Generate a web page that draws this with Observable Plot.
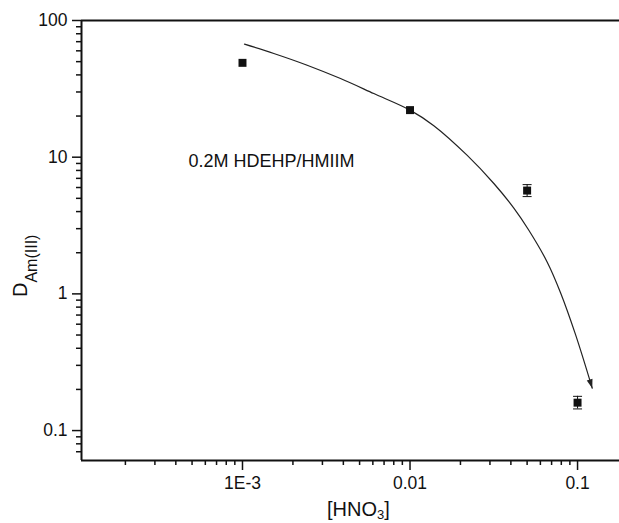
<!DOCTYPE html>
<html><head><meta charset="utf-8">
<script src="https://cdn.jsdelivr.net/npm/d3@7"></script>
<script src="https://cdn.jsdelivr.net/npm/@observablehq/plot@0.6"></script>
<style>body{margin:0;background:#fff}</style>
</head><body><div id="chart"></div>
<script>
// ---- data ----
const hno3 = [0.001, 0.01, 0.05, 0.1];
const dAm = [49, 22.1, 5.7, 0.16];
const dLow = [null, null, 5.15, 0.144];
const dHigh = [null, null, 6.3, 0.178];

const fitX = [0.001028, 0.001538, 0.002433, 0.003847, 0.006079, 0.01, 0.01387, 0.02196, 0.03165, 0.04166, 0.0512, 0.06594, 0.07916, 0.0973, 0.1224];
const fitY = [67.1, 57.4, 47.1, 37.6, 29.2, 22.1, 17.0, 10.3, 6.42, 4.24, 2.92, 1.706, 1.02, 0.5029, 0.204];

const xMajor = [0.001, 0.01, 0.1];
const xMajorLabels = ["1E-3", "0.01", "0.1"];
const xMinor = [0.0002, 0.0003, 0.0004, 0.0005, 0.0006, 0.0007, 0.0008, 0.0009,
                0.002, 0.003, 0.004, 0.005, 0.006, 0.007, 0.008, 0.009,
                0.02, 0.03, 0.04, 0.05, 0.06, 0.07, 0.08, 0.09];
const yMajor = [0.1, 1, 10, 100];
const yMajorLabels = ["0.1", "1", "10", "100"];
const yMinor = [0.07, 0.08, 0.09,
                0.2, 0.3, 0.4, 0.5, 0.6, 0.7, 0.8, 0.9,
                2, 3, 4, 5, 6, 7, 8, 9,
                20, 30, 40, 50, 60, 70, 80, 90];
const xDomain = [1.094e-4, 0.178];
const yDomain = [0.0604, 100];

const note = "0.2M HDEHP/HMIIM";
const noteX = 4.76e-4, noteY = 9.4;

// ---- tables ----
const points = hno3.map((x, i) => ({x, y: dAm[i], lo: dLow[i], hi: dHigh[i]}));
const errs = points.filter(d => d.lo != null);
const fit = fitX.map((x, i) => ({x, y: fitY[i]}));

const capSymbol = {draw(ctx) { ctx.moveTo(-4.5, 0); ctx.lineTo(4.5, 0); }};
const headShape = {draw(ctx, l) { ctx.moveTo(0, -l); ctx.lineTo(-3, 0); ctx.lineTo(3, 0); ctx.closePath(); }};

const ink = "#111";
const font = "'Liberation Sans', Arial, sans-serif";
const plot = Plot.plot({
  width: 619, height: 523,
  marginLeft: 81, marginRight: 0, marginTop: 20, marginBottom: 63,
  style: {fontFamily: font, fontSize: "17.5px", color: ink, background: "#fff"},
  x: {type: "log", domain: xDomain, label: null},
  y: {type: "log", domain: yDomain, label: null},
  marks: [
    Plot.axisX(xMinor, {tickSize: 5, tickFormat: () => "", strokeWidth: 1.5, label: null}),
    Plot.axisX(xMajor, {tickSize: 10, tickPadding: 6, strokeWidth: 1.5, label: null,
      tickFormat: d => xMajorLabels[xMajor.indexOf(d)]}),
    Plot.axisY(yMinor, {tickSize: 5, tickFormat: () => "", strokeWidth: 1.5, label: null}),
    Plot.axisY(yMajor, {tickSize: 9, tickPadding: 5, strokeWidth: 1.5, label: null,
      tickFormat: d => yMajorLabels[yMajor.indexOf(d)]}),
    Plot.ruleX([xDomain[0]], {stroke: ink, strokeWidth: 2}),
    Plot.ruleY([yDomain[0]], {stroke: ink, strokeWidth: 2}),
    Plot.ruleY([yDomain[1]], {stroke: ink, strokeWidth: 2}),
    Plot.line(fit, {x: "x", y: "y", curve: "catmull-rom", stroke: "#222", strokeWidth: 1.2}),
    Plot.vector([fit[fit.length - 1]], {x: "x", y: "y", anchor: "end", length: 9, rotate: 163,
      shape: headShape, fill: "#222", stroke: "none"}),
    Plot.ruleX(errs, {x: "x", y1: "lo", y2: "hi", stroke: ink, strokeWidth: 1}),
    Plot.dot(errs, {x: "x", y: "lo", symbol: capSymbol, fill: "none", stroke: ink, strokeWidth: 1}),
    Plot.dot(errs, {x: "x", y: "hi", symbol: capSymbol, fill: "none", stroke: ink, strokeWidth: 1}),
    Plot.dot(points, {x: "x", y: "y", symbol: "square", r: 4.5, fill: ink, stroke: "none"}),
    Plot.text([{x: noteX, y: noteY, t: note}], {x: "x", y: "y", text: "t", textAnchor: "start",
      fontSize: 18, fill: ink})
  ]
});
document.getElementById("chart").appendChild(plot);

// axis titles with subscripts
const svg = d3.select(plot);
const xt = svg.append("text").attr("x", 327).attr("y", 516).attr("text-anchor", "start")
  .attr("font-size", 20).attr("fill", ink).attr("font-family", font);
xt.append("tspan").text("[HNO");
xt.append("tspan").attr("font-size", 13).attr("dy", 3).text("3");
xt.append("tspan").attr("dy", -3).text("]");

const yt = svg.append("text").attr("transform", "translate(27,297) rotate(-90)").attr("text-anchor", "start")
  .attr("font-size", 20).attr("fill", ink).attr("font-family", font);
yt.append("tspan").text("D");
yt.append("tspan").attr("font-size", 16).attr("dy", 10).text("Am(III)");
</script>
</body></html>
